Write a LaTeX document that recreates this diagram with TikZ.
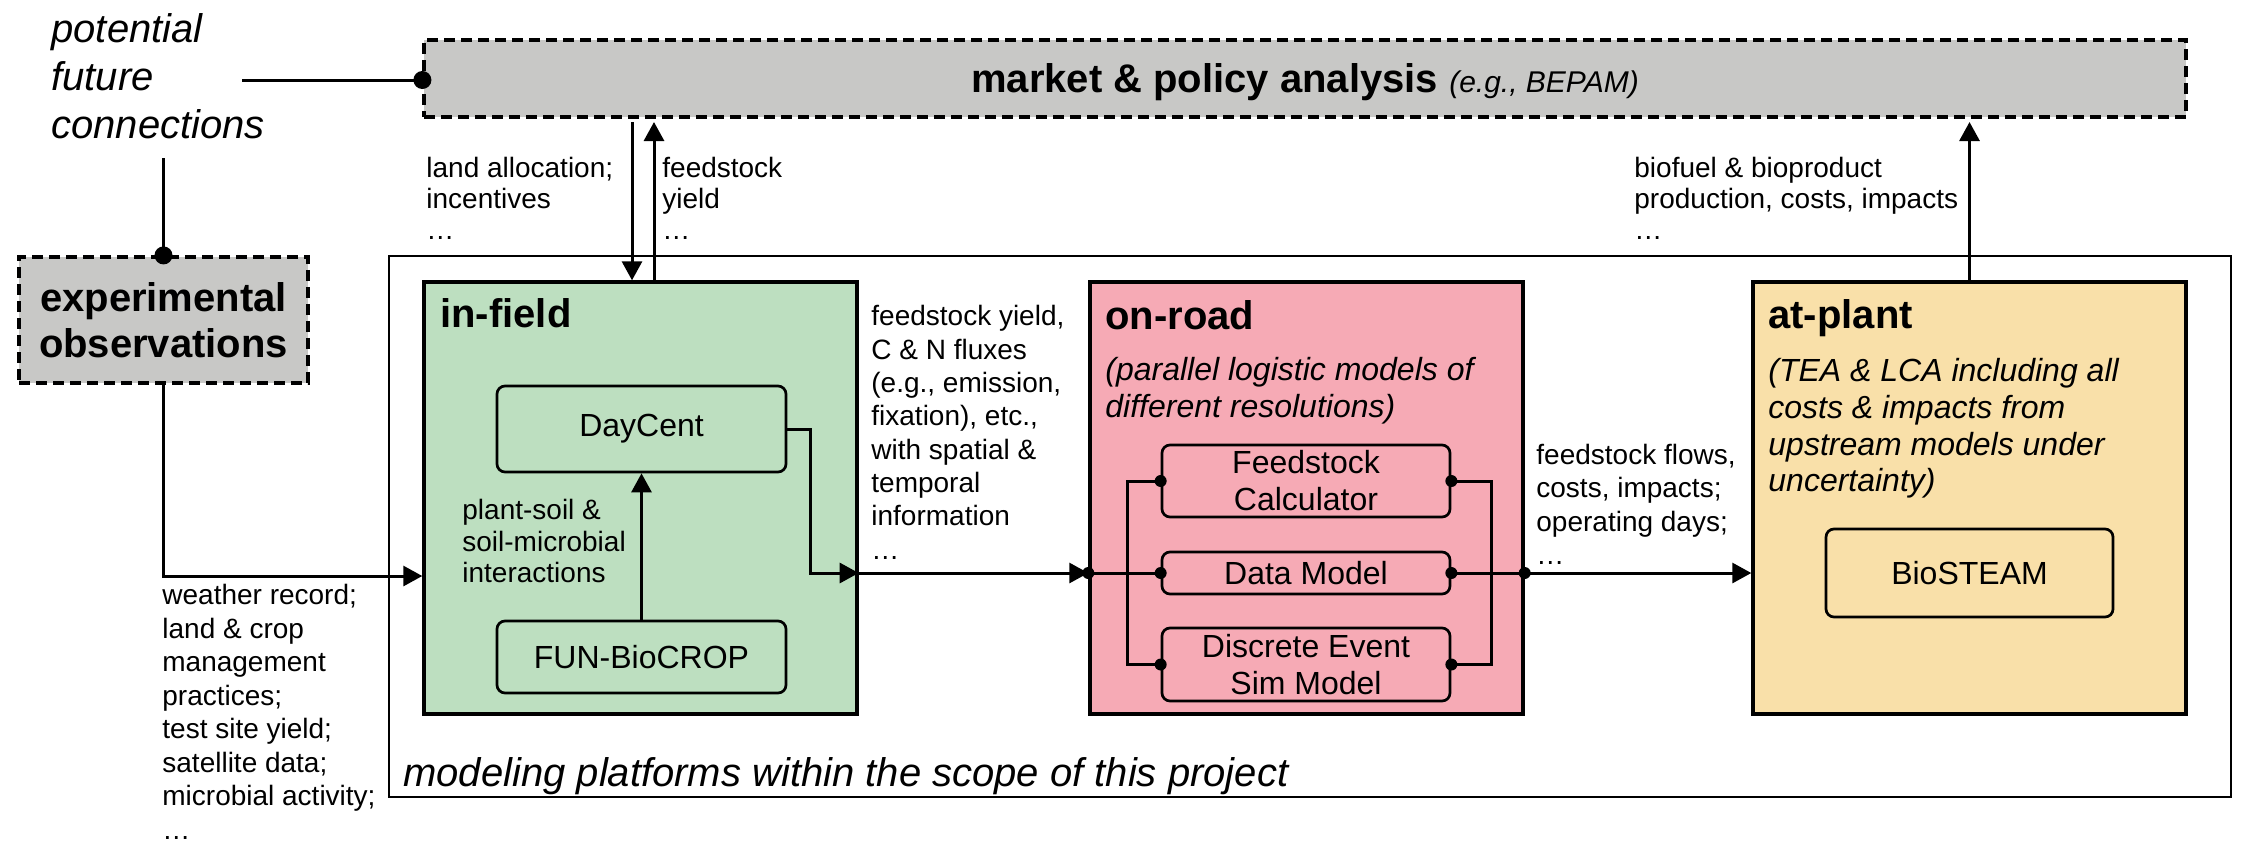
\documentclass[tikz,border=0pt]{standalone}
\usepackage{fontspec}
\setmainfont{Liberation Sans}
\usetikzlibrary{arrows.meta,calc}
\definecolor{boxgray}{RGB}{200,200,198}
\definecolor{fieldgreen}{RGB}{189,223,192}
\definecolor{roadpink}{RGB}{246,170,181}
\definecolor{plantyellow}{RGB}{249,224,169}
\tikzset{
  panel/.style={draw, line width=1.7pt, minimum width=216.5pt, minimum height=216pt, inner sep=0pt},
  model/.style={draw, rounded corners=4pt, line width=1.35pt, minimum width=144.5pt, inner sep=0pt, align=center, font=\fontsize{16}{18.5}\selectfont},
  dashbox/.style={draw, fill=boxgray, dash pattern=on 5.5pt off 3pt, line width=1.6pt, inner sep=0pt},
  conn/.style={line width=1.5pt},
  arr/.style={conn, -{Triangle[length=9.5pt,width=10pt]}},
  lbl/.style={anchor=north west, inner sep=0pt, align=left},
  body/.style={font=\fontsize{14}{16.75}\selectfont},
  ttl/.style={anchor=north west, inner sep=0pt, font=\bfseries\fontsize{20}{24}\selectfont},
  desc/.style={anchor=north west, inner sep=0pt, align=left, font=\itshape\fontsize{16}{18.4}\selectfont}
}
\begin{document}
\begin{tikzpicture}[x=1pt,y=-1pt]
\useasboundingbox (0,0) rectangle (1124,424);
% frames
\node[draw, line width=1.15pt, minimum width=921pt, minimum height=270.5pt, inner sep=0pt] (scope) at (655,263.25) {};
\node[dashbox, minimum width=881pt, minimum height=38.5pt, text height=14.6pt, text depth=0.4pt] (market) at (652.5,39.25)
  {{\bfseries\fontsize{20}{24}\selectfont market \& policy analysis\ }{\itshape\fontsize{15}{18}\selectfont (e.g., BEPAM)}};
\node[dashbox, minimum width=144.5pt, minimum height=63pt, align=center, font=\bfseries\fontsize{20}{23}\selectfont] (exp) at (81.75,160) {experimental\\observations};
\node[panel, fill=fieldgreen] (infield) at (320.25,249) {};
\node[panel, fill=roadpink] (onroad) at (653.25,249) {};
\node[panel, fill=plantyellow] (atplant) at (984.75,249) {};
% models
\node[model, minimum height=43pt] (daycent) at (320.75,214.5) {DayCent};
\node[model, minimum height=36pt] (fun) at (320.75,328.5) {FUN-BioCROP};
\node[model, minimum width=144pt, minimum height=36pt] (fc) at (653,240.5) {Feedstock\\Calculator};
\node[model, minimum width=144pt, minimum height=21pt] (dm) at (653,286.5) {Data Model};
\node[model, minimum width=144pt, minimum height=36.5pt] (des) at (653,332.25) {Discrete Event\\Sim Model};
\node[model, minimum width=143.5pt, minimum height=44pt] (bio) at (984.75,286.5) {BioSTEAM};
% titles
\node[ttl] (tinfield) at (220,149) {in-field};
\node[ttl] (tonroad) at (552.5,150) {on-road};
\node[ttl] (tatplant) at (884,149.5) {at-plant};
\node[desc] (donroad) at (552.5,178.5) {(parallel logistic models of\\different resolutions)};
\node[desc, font=\itshape\fontsize{16}{18.35}\selectfont] (datplant) at (884,179) {(TEA \& LCA including all\\costs \& impacts from\\upstream models under\\uncertainty)};
\node[anchor=north west, inner sep=0pt, font=\itshape\fontsize{20}{24}\selectfont] (tscope) at (201.5,378.5) {modeling platforms within the scope of this project};
\node[lbl, font=\itshape\fontsize{20}{24}\selectfont] (tpfc) at (25.5,6.5) {potential\\future\\connections};
% coordinates
\coordinate (pfc) at (121,40);
\coordinate (pfc2) at (81.75,79);
\coordinate (inrow) at (0,288);
\coordinate (mkd) at (316,61);
\coordinate (mku) at (327,61);
% connectors
\draw[conn] (pfc) -- (market.west |- pfc);
\fill (market.west |- pfc) circle (4.5pt);
\draw[conn] (pfc2) -- (exp.north);
\fill (exp.north) circle (4.5pt);
\draw[arr] (exp.south) |- (infield.west |- inrow);
\draw[arr] (mkd) -- (mkd |- infield.north);
\draw[arr] (mku |- infield.north) -- (mku);
\draw[arr] (fun.north) -- (daycent.south);
\draw[arr] (daycent.east) -- ++(11.5,0) |- (infield.east |- dm.center);
\draw[arr] (infield.east |- dm.center) -- (onroad.west |- dm.center);
\draw[conn] (onroad.west |- dm.center) -- (dm.west);
\draw[conn] (fc.west) -- ++(-16.5,0) |- (des.west);
\draw[conn] (fc.east) -- ++(20,0) |- (des.east);
\draw[conn] (dm.east) -- (onroad.east |- dm.center);
\draw[arr] (onroad.east |- dm.center) -- (atplant.west |- dm.center);
\draw[arr] (atplant.north) -- (atplant.north |- mku);
\foreach \p in {onroad.west |- dm.center, dm.west, fc.west, des.west, fc.east, dm.east, des.east, onroad.east |- dm.center}
  \fill (\p) circle (3pt);
% labels
\node[lbl, font=\fontsize{14}{15.5}\selectfont] (lland) at (213,78.5) {land allocation;\\incentives\\…};
\node[lbl, font=\fontsize{14}{15.5}\selectfont] (lyield) at (331,78.5) {feedstock\\yield\\…};
\node[lbl, font=\fontsize{14}{15.5}\selectfont] (lbiof) at (817,78.5) {biofuel \& bioproduct\\production, costs, impacts\\…};
\node[lbl, body] (lweather) at (81,292) {weather record;\\land \& crop\\management\\practices;\\test site yield;\\satellite data;\\microbial activity;\\…};
\node[lbl, font=\fontsize{14}{16.67}\selectfont] (lflux) at (435.5,152.5) {feedstock yield,\\C \& N fluxes\\(e.g., emission,\\fixation), etc.,\\with spatial \&\\temporal\\information\\…};
\node[lbl, font=\fontsize{14}{16.6}\selectfont] (lflows) at (768,222) {feedstock flows,\\costs, impacts;\\operating days;\\…};
\node[lbl, font=\fontsize{14}{15.75}\selectfont] (lplant) at (231,249.5) {plant-soil \&\\soil-microbial\\interactions};
\end{tikzpicture}
\end{document}
